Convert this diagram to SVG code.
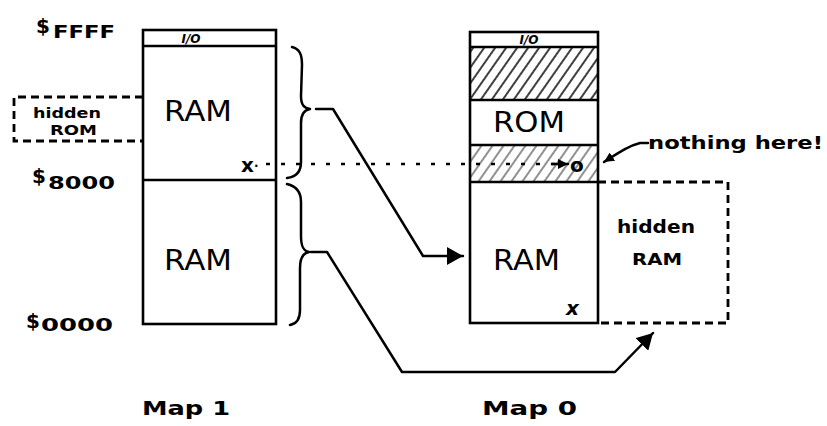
<svg xmlns="http://www.w3.org/2000/svg" width="827" height="426" viewBox="0 0 827 426">
<style>
.box{fill:none;stroke:#000;stroke-width:2.6}
.ln{fill:none;stroke:#000;stroke-width:2.5;stroke-linejoin:round;stroke-linecap:round}
.dash{fill:none;stroke:#000;stroke-width:2.8;stroke-dasharray:8 5}
.dot{fill:none;stroke:#000;stroke-width:2.5;stroke-dasharray:4 11}
.big{font-family:"DejaVu Sans",sans-serif;font-size:28px;fill:#000}
.lab{font-family:"DejaVu Sans",sans-serif;font-weight:bold;fill:#000}
</style>
<defs>
<pattern id="hatch" patternUnits="userSpaceOnUse" width="9" height="10" patternTransform="rotate(35)">
<line x1="1" y1="0" x2="1" y2="10" stroke="#000" stroke-width="1.5"/>
</pattern>
<pattern id="hatchLight" patternUnits="userSpaceOnUse" width="9" height="10" patternTransform="rotate(35)">
<line x1="1" y1="0" x2="1" y2="10" stroke="#222" stroke-width="1"/>
</pattern>
<marker id="ah" markerUnits="userSpaceOnUse" markerWidth="16" markerHeight="18" refX="16" refY="9" orient="auto">
<path d="M0,0 L16,9 L0,18 z" fill="#000"/>
</marker>
<marker id="ahs" markerUnits="userSpaceOnUse" markerWidth="10" markerHeight="10" refX="10" refY="5" orient="auto">
<path d="M0,0 L10,5 L0,10 z" fill="#000"/>
</marker>
</defs>

<g id="map1">
<rect class="box" x="143" y="30" width="133" height="294"/>
<line class="box" x1="143" y1="46" x2="276" y2="46"/>
<line class="box" x1="143" y1="180" x2="276" y2="180"/>
<text class="lab" x="191" y="43" font-size="12" font-style="italic" text-anchor="middle">I/O</text>
<text class="big" x="164" y="121" textLength="68" lengthAdjust="spacingAndGlyphs">RAM</text>
<text class="big" x="164" y="270" textLength="68" lengthAdjust="spacingAndGlyphs">RAM</text>
<text class="lab" x="241" y="172" font-size="20">x<tspan font-size="12" dy="-2">·</tspan></text>
</g>

<g id="hiddenROM">
<path class="dash" d="M143,97 L14,97 L14,141 L143,141"/>
<text class="lab" x="33" y="118" font-size="14" textLength="68" lengthAdjust="spacingAndGlyphs">hidden</text>
<text class="lab" x="50" y="135" font-size="14" textLength="47" lengthAdjust="spacingAndGlyphs">ROM</text>
</g>

<g id="addrLabels">
<text class="lab" x="36" y="38" font-size="18"><tspan font-size="20" dy="-5">$</tspan><tspan dy="5" dx="3" textLength="62" lengthAdjust="spacingAndGlyphs">FFFF</tspan></text>
<text class="lab" x="32" y="189" font-size="18"><tspan font-size="20" dy="-6">$</tspan><tspan dy="6" dx="2" textLength="67" lengthAdjust="spacingAndGlyphs">8000</tspan></text>
<text class="lab" x="26" y="331" font-size="18"><tspan font-size="20" dy="-3">$</tspan><tspan dy="3" dx="1" font-size="17" textLength="72" lengthAdjust="spacingAndGlyphs">0000</tspan></text>
</g>

<g id="map0">
<rect x="470" y="47" width="128" height="53" fill="url(#hatch)"/>
<rect x="470" y="145" width="128" height="37" fill="url(#hatchLight)"/>
<rect class="box" x="470" y="32" width="128" height="291"/>
<line class="box" x1="470" y1="47" x2="598" y2="47"/>
<line class="box" x1="470" y1="100" x2="598" y2="100"/>
<line class="box" x1="470" y1="145" x2="598" y2="145"/>
<line class="box" x1="470" y1="182" x2="598" y2="182"/>
<text class="lab" x="529" y="44" font-size="12" font-style="italic" text-anchor="middle">I/O</text>
<text class="big" x="493" y="132" textLength="72" lengthAdjust="spacingAndGlyphs">ROM</text>
<text class="big" x="493" y="270" textLength="67" lengthAdjust="spacingAndGlyphs">RAM</text>
<text class="lab" x="566" y="315" font-size="20" font-style="italic">x</text>
<text class="lab" x="570" y="172" font-size="20">o</text>
</g>

<g id="hiddenRAM">
<path class="dash" d="M598,182 L728,182 L728,323 L598,323"/>
<text class="lab" x="617" y="233" font-size="17" textLength="78" lengthAdjust="spacingAndGlyphs">hidden</text>
<text class="lab" x="632" y="265" font-size="16" textLength="50" lengthAdjust="spacingAndGlyphs">RAM</text>
</g>

<g id="note">
<text class="lab" x="648" y="149" font-size="18" textLength="175" lengthAdjust="spacingAndGlyphs">nothing here!</text>
</g>

<g id="mapLabels">
<text class="lab" x="142" y="415" font-size="19" textLength="88" lengthAdjust="spacingAndGlyphs">Map 1</text>
<text class="lab" x="482" y="415" font-size="19" textLength="95" lengthAdjust="spacingAndGlyphs">Map 0</text>
</g>

<g id="connectors">
<path class="ln" d="M292,47 C300,49 302,55 302,65 L301,96 C301,105 304,108 310,109 C304,110 301,114 301,123 L301,162 C301,172 296,177 287,178"/>
<path class="ln" d="M287,184 C296,186 301,192 301,202 L301,236 C301,246 303,251 309,252 C303,253 300,258 300,268 L300,310 C300,320 296,324 290,325"/>
<path class="ln" d="M316,109 L333,109 L423,256 L463,256" marker-end="url(#ah)"/>
<path class="ln" d="M311,252 L327,252 L402,372 L615,372 L653,333" marker-end="url(#ah)"/>
<path class="dot" d="M266,164 L560,164"/>
<path class="ln" d="M552,164 L568,164" marker-end="url(#ahs)" stroke-width="1"/>
<path class="ln" d="M648,143 L640,143 C628,146 618,153 604,162" marker-end="url(#ahs)"/>
</g>
</svg>
